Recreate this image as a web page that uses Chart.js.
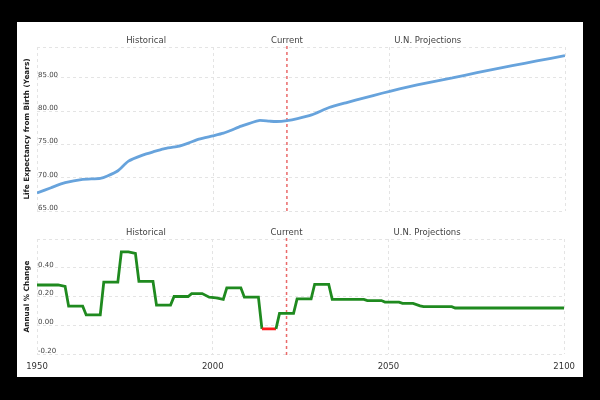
<!DOCTYPE html>
<html>
<head>
<meta charset="utf-8">
<script src="https://cdn.jsdelivr.net/npm/chart.js@4"></script>
<style>
  html, body { margin: 0; padding: 0; background: #000; }
  #frame { position: absolute; left: 17px; top: 22px; width: 566px; height: 355px; background: #fff; }
  #topBox { position: absolute; left: 0; top: 0; width: 566px; height: 200px; }
  #bottomBox { position: absolute; left: 0; top: 200px; width: 566px; height: 155px; }
</style>
</head>
<body>
<div id="frame">
  <div id="topBox"><canvas id="lifeChart"></canvas></div>
  <div id="bottomBox"><canvas id="changeChart"></canvas></div>
</div>
<script>
// life expectancy (years)
const lifeYears = [1950, 1954, 1958, 1963, 1968, 1970, 1973, 1976, 1980, 1983, 1986, 1990, 1993, 1996, 2000, 2003, 2005, 2008, 2013, 2016, 2018, 2021, 2024, 2028, 2033, 2038, 2043, 2048, 2053, 2058, 2063, 2068, 2075, 2085, 2092, 2100];
const lifeExpectancy = [67.7, 68.5, 69.25, 69.75, 69.9, 70.25, 71.05, 72.5, 73.4, 73.9, 74.35, 74.7, 75.2, 75.8, 76.3, 76.7, 77.1, 77.75, 78.6, 78.5, 78.45, 78.6, 78.9, 79.45, 80.55, 81.3, 82.0, 82.7, 83.35, 83.95, 84.5, 85.0, 85.8, 86.85, 87.55, 88.35];

// annual % change, lower panel (corner points of the steps)
const changeYears = [1950, 1956, 1958, 1959, 1963, 1964, 1968, 1969, 1973, 1974, 1976, 1978, 1979, 1983, 1984, 1988, 1989, 1993, 1994, 1997, 1999, 2001, 2003, 2004, 2008, 2009, 2013, 2014, 2018, 2019, 2023, 2024, 2028, 2029, 2033, 2034, 2043, 2044, 2048, 2049, 2053, 2054, 2057, 2059, 2060, 2068, 2069, 2100];
const annualChange = [0.28, 0.28, 0.27, 0.133, 0.133, 0.072, 0.072, 0.30, 0.30, 0.51, 0.51, 0.50, 0.305, 0.305, 0.14, 0.14, 0.20, 0.20, 0.22, 0.22, 0.195, 0.19, 0.18, 0.26, 0.26, 0.195, 0.195, -0.025, -0.025, 0.083, 0.083, 0.184, 0.184, 0.285, 0.285, 0.18, 0.18, 0.172, 0.172, 0.161, 0.161, 0.152, 0.152, 0.135, 0.129, 0.129, 0.12, 0.12];

const xTicks = [1950, 2000, 2050, 2100];
const sectionNames = ["Historical", "Current", "U.N. Projections"];
const currentYear = 2021;

Chart.defaults.font.family = "'DejaVu Sans', sans-serif";
Chart.defaults.animation = false;

const labelSpots = [1981, 2021, 2061]; // where the section captions sit

const sectionPlugin = {
  id: "sections",
  beforeDatasetsDraw(chart) {
    const { ctx, chartArea } = chart;
    const x = chart.scales.x.getPixelForValue(currentYear);
    ctx.save();
    ctx.strokeStyle = "rgba(232,90,90,0.9)";
    ctx.lineWidth = 1.5;
    ctx.setLineDash([3, 3]);
    ctx.beginPath();
    ctx.moveTo(x, chartArea.top - 1);
    ctx.lineTo(x, chartArea.bottom + 1);
    ctx.stroke();
    ctx.restore();
  },
  afterDraw(chart) {
    const { ctx, chartArea } = chart;
    ctx.save();
    ctx.font = "8.5px 'DejaVu Sans', sans-serif";
    ctx.fillStyle = "#444";
    ctx.textAlign = "center";
    ctx.textBaseline = "middle";
    sectionNames.forEach((name, i) => {
      ctx.fillText(name, chart.scales.x.getPixelForValue(labelSpots[i]), chartArea.top - 6);
    });
    ctx.restore();
  }
};

const gridStyle = { color: "#e4e4e4", lineWidth: 1, drawTicks: false };
const dashedBorder = { display: false, dash: [3, 3] };

function xAxis(showLabels) {
  return {
    type: "linear",
    min: 1950,
    max: 2100,
    afterBuildTicks: (s) => { s.ticks = xTicks.map((v) => ({ value: v })); },
    grid: gridStyle,
    border: dashedBorder,
    ticks: {
      display: showLabels,
      color: "#333",
      font: { size: 8.5 },
      padding: 8,
      maxRotation: 0,
      callback: (v) => String(v)
    },
    afterFit: (s) => { s.height = showLabels ? 23 : 0; }
  };
}

function points(xs, ys) {
  return xs.map((x, i) => ({ x, y: ys[i] }));
}

new Chart(document.getElementById("lifeChart"), {
  type: "line",
  data: {
    datasets: [{
      data: points(lifeYears, lifeExpectancy),
      borderColor: "#67a3dc",
      borderWidth: 2.8,
      pointRadius: 0,
      tension: 0.2,
      fill: false
    }]
  },
  options: {
    responsive: true,
    maintainAspectRatio: false,
    layout: { padding: { left: 0, right: 18, top: 25, bottom: 11 } },
    plugins: { legend: { display: false }, tooltip: { enabled: false } },
    scales: {
      x: xAxis(false),
      y: {
        min: 65,
        max: 89.65,
        ticks: {
          stepSize: 5,
          mirror: true,
          padding: 1,
          labelOffset: -3,
          color: "#444",
          font: { size: 7 },
          callback: (v) => (v % 5 === 0 ? v.toFixed(2) : "")
        },
        grid: gridStyle,
        border: dashedBorder,
        title: {
          display: true,
          text: "Life Expectancy from Birth (Years)",
          color: "#222",
          font: { size: 7.3, weight: "bold" },
          padding: { top: 6, bottom: 0 }
        },
        afterFit: (s) => { s.width = 20; }
      }
    }
  },
  plugins: [sectionPlugin]
});

new Chart(document.getElementById("changeChart"), {
  type: "line",
  data: {
    datasets: [{
      data: points(changeYears, annualChange),
      borderColor: "#1f8a1f",
      borderWidth: 2.8,
      pointRadius: 0,
      tension: 0,
      fill: false,
      segment: {
        borderColor: (c) => (c.p0.parsed.y < 0 && c.p1.parsed.y < 0 ? "#ff1a1a" : "#1f8a1f")
      }
    }]
  },
  options: {
    responsive: true,
    maintainAspectRatio: false,
    layout: { padding: { left: 0, right: 18, top: 17, bottom: 0 } },
    plugins: { legend: { display: false }, tooltip: { enabled: false } },
    scales: {
      x: xAxis(true),
      y: {
        min: -0.2,
        max: 0.6,
        ticks: {
          stepSize: 0.2,
          mirror: true,
          padding: 1,
          labelOffset: -3,
          color: "#444",
          font: { size: 7 },
          callback: (v) => (v > 0.55 ? "" : v.toFixed(2))
        },
        grid: gridStyle,
        border: dashedBorder,
        title: {
          display: true,
          text: "Annual % Change",
          color: "#222",
          font: { size: 7.3, weight: "bold" },
          padding: { top: 6, bottom: 0 }
        },
        afterFit: (s) => { s.width = 20; }
      }
    }
  },
  plugins: [sectionPlugin]
});
</script>
</body>
</html>
